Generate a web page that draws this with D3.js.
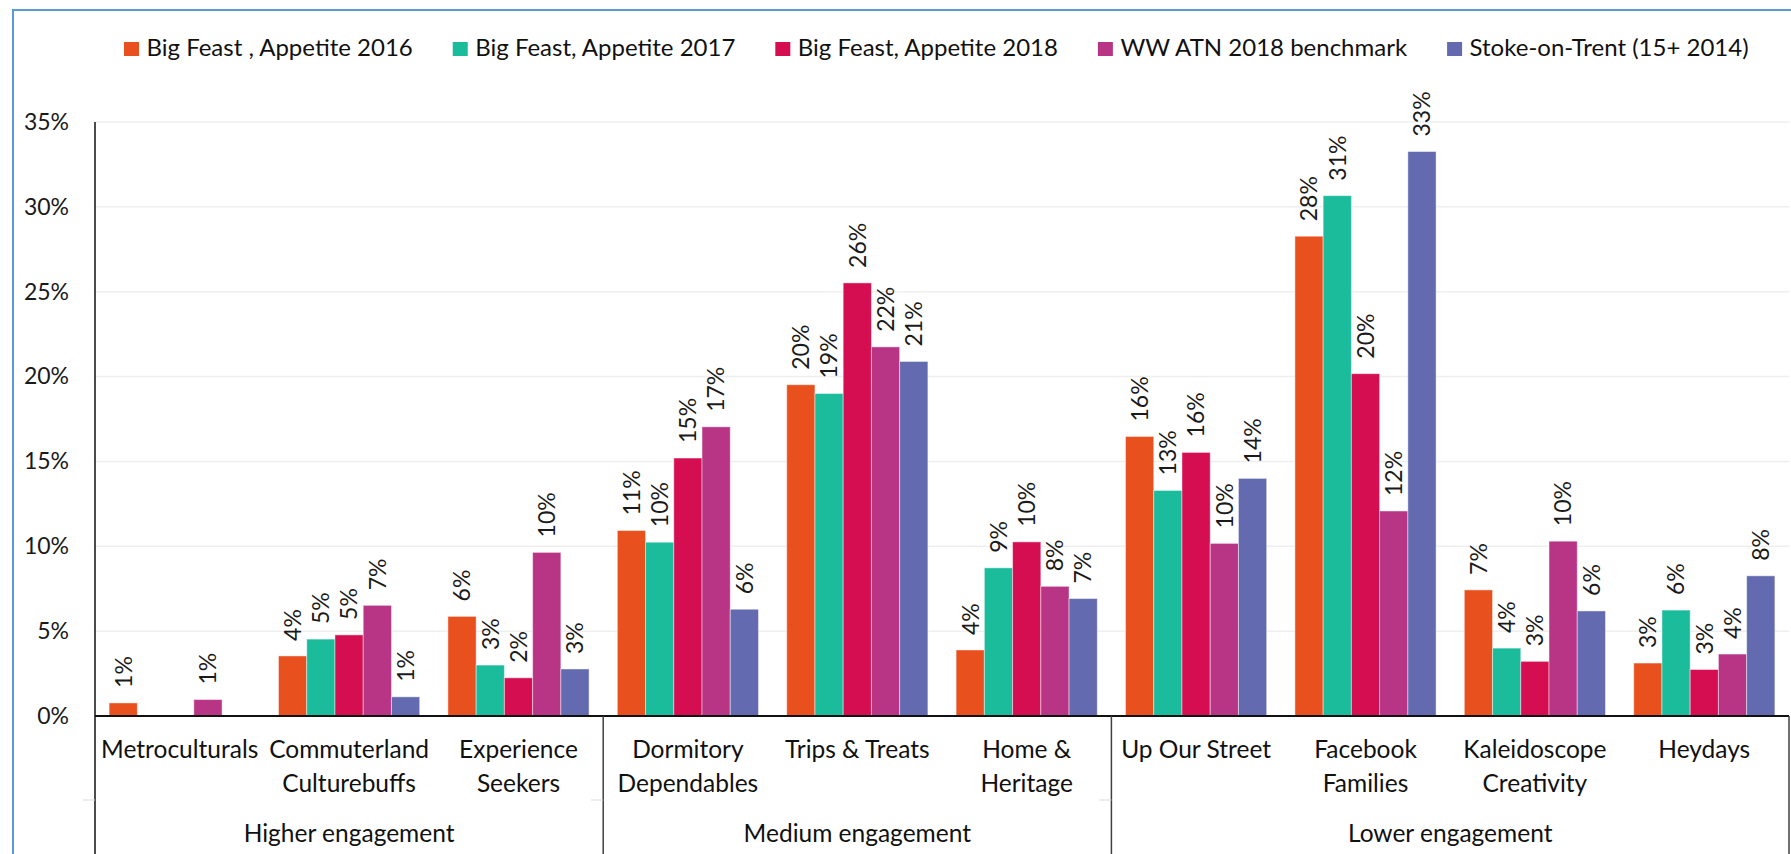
<!DOCTYPE html>
<html>
<head>
<meta charset="utf-8">
<script src="https://cdn.jsdelivr.net/npm/d3@7"></script>
<style>
  html, body { margin: 0; padding: 0; background: #fff; }
  svg { display: block; }
</style>
</head>
<body>
<svg id="chart" width="1791" height="854"></svg>
<script>
// Audience Spectrum segments, grouped by engagement level
const categories = [
  "Metroculturals", "Commuterland Culturebuffs", "Experience Seekers",
  "Dormitory Dependables", "Trips & Treats", "Home & Heritage",
  "Up Our Street", "Facebook Families", "Kaleidoscope Creativity", "Heydays"
];
const categoryLines = [
  ["Metroculturals"], ["Commuterland", "Culturebuffs"], ["Experience", "Seekers"],
  ["Dormitory", "Dependables"], ["Trips & Treats"], ["Home &", "Heritage"],
  ["Up Our Street"], ["Facebook", "Families"], ["Kaleidoscope", "Creativity"], ["Heydays"]
];
const groupNames = ["Higher engagement", "Medium engagement", "Lower engagement"];
const groupSizes = [3, 3, 4];

const seriesNames = [
  "Big Feast , Appetite 2016",
  "Big Feast, Appetite 2017",
  "Big Feast, Appetite 2018",
  "WW ATN 2018 benchmark",
  "Stoke-on-Trent (15+ 2014)"
];
const seriesColors = ["#E8501E", "#1ABC9C", "#D40E50", "#B83586", "#636AAF"];

const bigFeast2016 = [0.0077, 0.0354, 0.0587, 0.1093, 0.1952, 0.0389, 0.1647, 0.2827, 0.0743, 0.0312];
const bigFeast2017 = [null,   0.0453, 0.0300, 0.1024, 0.1900, 0.0873, 0.1329, 0.3066, 0.0400, 0.0624];
const bigFeast2018 = [null,   0.0478, 0.0225, 0.1520, 0.2552, 0.1026, 0.1553, 0.2017, 0.0322, 0.0274];
const wwAtn2018    = [0.0097, 0.0652, 0.0964, 0.1704, 0.2175, 0.0764, 0.1017, 0.1208, 0.1030, 0.0365];
const stoke2014    = [null,   0.0113, 0.0277, 0.0629, 0.2089, 0.0692, 0.1400, 0.3326, 0.0619, 0.0826];
const seriesValues = [bigFeast2016, bigFeast2017, bigFeast2018, wwAtn2018, stoke2014];

const yTicks = [0, 0.05, 0.10, 0.15, 0.20, 0.25, 0.30, 0.35];

// ---- layout ----
const W = 1791, H = 854;
const plot = { left: 95, right: 1789, top: 122, bottom: 716 };
const font = "Lato, 'Open Sans', sans-serif";

const svg = d3.select("#chart");
svg.append("rect").attr("width", W).attr("height", H).attr("fill", "#fff");

const x = d3.scaleBand().domain(categories).range([plot.left, plot.right]).padding(0);
const xs = d3.scaleBand().domain(seriesNames).range([0, x.bandwidth()])
  .paddingInner(0).paddingOuter(0.5);
const y = d3.scaleLinear().domain([0, 0.35]).range([plot.bottom, plot.top]);
const pct = d3.format(".0%");

// chart frame (top and left edge)
svg.append("path")
  .attr("d", `M13,${H} L13,10 L${W},10`)
  .attr("fill", "none").attr("stroke", "#5B9BD5").attr("stroke-width", 2);

// horizontal gridlines
svg.append("g")
  .selectAll("line").data(yTicks.filter(t => t > 0)).join("line")
  .attr("x1", plot.left).attr("x2", plot.right)
  .attr("y1", d => y(d)).attr("y2", d => y(d))
  .attr("stroke", "#EFEFEF").attr("stroke-width", 1.5);

// y axis labels
const yAxis = d3.axisLeft(y).tickValues(yTicks).tickFormat(pct).tickSize(0).tickPadding(26);
const gy = svg.append("g").attr("transform", `translate(${plot.left},0)`).call(yAxis);
gy.select(".domain").remove();
gy.selectAll("text")
  .attr("font-family", font).attr("font-size", 23).attr("fill", "#1a1a1a");

// bars
const rows = [];
seriesValues.forEach((vals, si) => {
  vals.forEach((v, ci) => {
    if (v != null) rows.push({ series: seriesNames[si], color: seriesColors[si], cat: categories[ci], value: v });
  });
});

svg.append("g")
  .selectAll("rect").data(rows).join("rect")
  .attr("x", d => x(d.cat) + xs(d.series))
  .attr("y", d => y(d.value))
  .attr("width", xs.bandwidth())
  .attr("height", d => y(0) - y(d.value))
  .attr("fill", d => d.color)
  .attr("stroke", "rgba(255,255,255,0.45)").attr("stroke-width", 1);

// value labels, rotated
svg.append("g")
  .selectAll("text").data(rows).join("text")
  .attr("transform", d => `translate(${x(d.cat) + xs(d.series) + xs.bandwidth() / 2},${y(d.value) - 15}) rotate(-90)`)
  .attr("text-anchor", "start").attr("dy", "0.36em")
  .attr("font-family", font).attr("font-size", 23).attr("fill", "#1a1a1a")
  .text(d => pct(d.value));

// category axis: baseline, y axis line, group separators
const axisG = svg.append("g");
axisG.append("line")
  .attr("x1", plot.left).attr("x2", plot.right)
  .attr("y1", plot.bottom).attr("y2", plot.bottom)
  .attr("stroke", "#111").attr("stroke-width", 2);
axisG.append("line")
  .attr("x1", plot.left).attr("x2", plot.left)
  .attr("y1", plot.top).attr("y2", H)
  .attr("stroke", "#111").attr("stroke-width", 1.5);

let acc = 0;
const groupSpans = groupSizes.map((n, i) => {
  const start = x(categories[acc]);
  const end = x(categories[acc + n - 1]) + x.bandwidth();
  acc += n;
  return { name: groupNames[i], start, end };
});
axisG.selectAll("line.sep").data(groupSpans).join("line")
  .attr("class", "sep")
  .attr("x1", d => d.end).attr("x2", d => d.end)
  .attr("y1", plot.bottom).attr("y2", H)
  .attr("stroke", "#404040").attr("stroke-width", 1.5);
// small tick marks between the two label rows
axisG.selectAll("line.tk").data(groupSpans).join("line")
  .attr("class", "tk")
  .attr("x1", d => d.start - 12).attr("x2", d => d.start)
  .attr("y1", 800).attr("y2", 800)
  .attr("stroke", "#D9D9D9").attr("stroke-width", 1);

// segment names
const catG = svg.append("g")
  .attr("font-family", font).attr("font-size", 24.5).attr("fill", "#111")
  .attr("text-anchor", "middle");
categories.forEach((c, i) => {
  const t = catG.append("text").attr("x", x(c) + x.bandwidth() / 2).attr("y", 758);
  categoryLines[i].forEach((line, li) => {
    t.append("tspan").attr("x", x(c) + x.bandwidth() / 2).attr("dy", li === 0 ? 0 : 33.5).text(line);
  });
});

// engagement group names
catG.selectAll("text.grp").data(groupSpans).join("text")
  .attr("class", "grp")
  .attr("x", d => (d.start + d.end) / 2).attr("y", 842)
  .text(d => d.name);

// legend
const legend = svg.append("g").attr("font-family", font).attr("font-size", 24).attr("fill", "#111");
let lx = 124;
seriesNames.forEach((name, i) => {
  const g = legend.append("g").attr("transform", `translate(${lx},0)`);
  g.append("rect").attr("x", 0).attr("y", 42).attr("width", 15).attr("height", 14).attr("fill", seriesColors[i]);
  const t = g.append("text").attr("x", 22.5).attr("y", 56).text(name);
  lx += 22.5 + t.node().getComputedTextLength() + 40;
});
</script>
</body>
</html>
